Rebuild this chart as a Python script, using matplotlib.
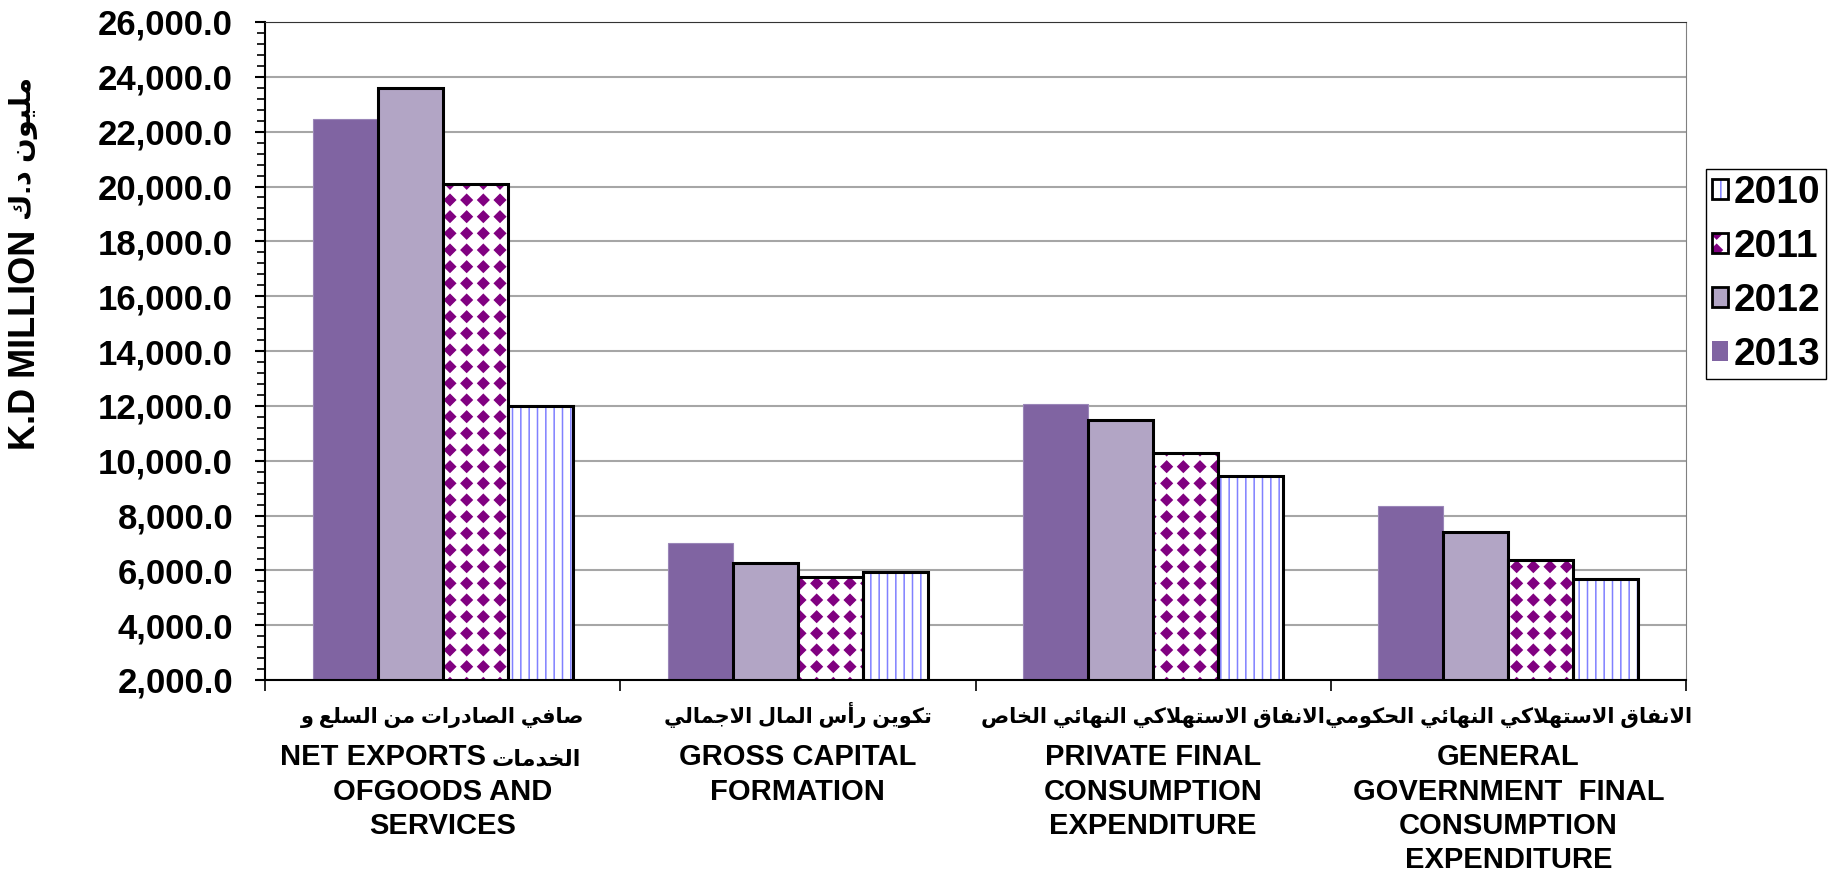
import numpy as np
import matplotlib
matplotlib.use('Agg')
import matplotlib.pyplot as plt
import matplotlib.hatch as mhatch
import matplotlib.patches as mpatches
from matplotlib.path import Path
from matplotlib.legend_handler import HandlerTuple
from matplotlib.ticker import MultipleLocator, FuncFormatter

# data (K.D million), groups left to right
groups_ar = ['صافي الصادرات من السلع و', 'تكوين رأس المال الاجمالي',
             'الانفاق الاستهلاكي النهائي الخاص', 'الانفاق الاستهلاكي النهائي الحكومي']
groups_en = [['NET EXPORTS', 'OFGOODS AND', 'SERVICES'],
             ['GROSS CAPITAL', 'FORMATION'],
             ['PRIVATE FINAL', 'CONSUMPTION', 'EXPENDITURE'],
             ['GENERAL', 'GOVERNMENT  FINAL', 'CONSUMPTION', 'EXPENDITURE']]
first_tail_ar = 'الخدمات'
ylabel_en = 'K.D MILLION'
ylabel_ar = 'مليون د.ك'

v2013 = [22450, 7010, 12050, 8340]
v2012 = [23580, 6250, 11470, 7380]
v2011 = [20090, 5740, 10280, 6370]
v2010 = [11980, 5930, 9430, 5670]

# --- minimal arabic shaping (matplotlib has no complex text layout) ---
DUAL = {'ت': 0xFE95, 'ج': 0xFE9D, 'ح': 0xFEA1, 'خ': 0xFEA5, 'س': 0xFEB1,
        'ص': 0xFEB9, 'ع': 0xFEC9, 'ف': 0xFED1, 'ق': 0xFED5, 'ك': 0xFED9,
        'ل': 0xFEDD, 'م': 0xFEE1, 'ن': 0xFEE5, 'ه': 0xFEE9, 'ي': 0xFEF1,
        'ئ': 0xFE89}
RIGHT = {'ا': 0xFE8D, 'أ': 0xFE83, 'د': 0xFEA9, 'ر': 0xFEAD, 'و': 0xFEED}
LAM_ALEF = {'ا': 0xFEFB, 'أ': 0xFEF7}


def ar(s):
    out = []
    i = 0
    while i < len(s):
        c = s[i]
        p = i > 0 and s[i - 1] in DUAL
        nxt = s[i + 1] if i + 1 < len(s) else ''
        if c == 'ل' and nxt in LAM_ALEF:
            out.append(chr(LAM_ALEF[nxt] + p))
            i += 2
            continue
        if c in DUAL:
            n = nxt in DUAL or nxt in RIGHT
            out.append(chr(DUAL[c] + (2 if n else 0) + (1 if p else 0)))
        elif c in RIGHT:
            out.append(chr(RIGHT[c] + p))
        else:
            out.append(c)
        i += 1
    return ''.join(out)[::-1]


# --- diamond hatch on a square grid, replaces the '*' star hatch ---
class Diamonds(mhatch.HatchPatternBase):
    def __init__(self, hatch, density):
        self.num_rows = hatch.count('*') * density
        self.path = Path.unit_regular_polygon(4)
        self.num_vertices = (self.num_rows + 1) ** 2 * len(self.path.vertices) if self.num_rows else 0

    def set_vertices_and_codes(self, vertices, codes):
        step = 1.0 / self.num_rows
        shape = self.path.vertices * step * 0.33
        k = len(shape)
        n = 0
        for row in range(self.num_rows + 1):
            for col in range(self.num_rows + 1):
                vertices[n:n + k] = shape + [col * step, row * step]
                codes[n:n + k] = self.path.codes
                n += k


mhatch._hatch_types = [t for t in mhatch._hatch_types if t is not mhatch.Stars] + [Diamonds]

plt.rcParams['font.family'] = ['Liberation Sans', 'DejaVu Sans']
plt.rcParams['font.weight'] = 'bold'
plt.rcParams['hatch.linewidth'] = 1.1

W, H = 1836, 875
AX_L, AX_R, AX_T, AX_B = 265, 1686, 22, 680
fig = plt.figure(figsize=(W / 100, H / 100), dpi=100)
ax = fig.add_axes([AX_L / W, 1 - AX_B / H, (AX_R - AX_L) / W, (AX_B - AX_T) / H])


def ybelow(px):
    # axes-fraction y for a pixel row below the x axis
    return -(px - AX_B) / (AX_B - AX_T)


x = np.arange(len(groups_ar))
w = 0.183
edge = 2.2
lines_c = '#8080FF'

ax.bar(x - 1.5 * w, v2013, w, color='#8064A2', edgecolor='#9A86B8', lw=0.8, zorder=2)
ax.bar(x - 0.5 * w, v2012, w, color='#B2A5C5', edgecolor='black', lw=edge, zorder=2)
ax.bar(x + 0.5 * w, v2011, w, color='white', edgecolor='#800080', lw=0, hatch='*', zorder=2)
ax.bar(x + 0.5 * w, v2011, w, color='none', edgecolor='black', lw=edge, zorder=3)
ax.bar(x + 1.5 * w, v2010, w, color='white', edgecolor=lines_c, lw=0, hatch='||', zorder=2)
ax.bar(x + 1.5 * w, v2010, w, color='none', edgecolor='black', lw=edge, zorder=3)

ax.set_xlim(-0.5, len(groups_ar) - 0.5)
ax.set_ylim(2000, 26000)
ax.yaxis.set_major_locator(MultipleLocator(2000))
ax.yaxis.set_minor_locator(MultipleLocator(400))
ax.yaxis.set_major_formatter(FuncFormatter(lambda v, pos: f'{v:,.1f}'))
ax.yaxis.grid(True, color='#A6A6A6', lw=1.5, zorder=0)
ax.set_axisbelow(True)
ax.tick_params(axis='y', which='major', labelsize=25, length=7, width=1.5, direction='out', pad=16)
ax.tick_params(axis='y', which='minor', length=6, width=1.2, direction='out')

ax.set_xticks([])
ax.set_xticks(np.arange(len(groups_ar) + 1) - 0.5, minor=True)
ax.tick_params(axis='x', which='minor', length=8, width=1.2, direction='out')

# category labels: arabic line, then english lines
tr = ax.get_xaxis_transform()
ar_base, en_base, step_px = 723, 765, 34.5
for i, (a, en) in enumerate(zip(groups_ar, groups_en)):
    ax.text(x[i], ybelow(ar_base), ar(a), transform=tr, ha='center', va='baseline',
            fontsize=15)
    rows = en
    if i == 0:
        ax.text(x[i] + 0.122, ybelow(en_base), en[0], transform=tr, ha='right',
                va='baseline', fontsize=21)
        ax.text(x[i] + 0.139, ybelow(en_base), ar(first_tail_ar), transform=tr,
                ha='left', va='baseline', fontsize=16)
        rows = [''] + en[1:]
    for k, row in enumerate(rows):
        if row:
            ax.text(x[i], ybelow(en_base + k * step_px), row, transform=tr,
                    ha='center', va='baseline', fontsize=21)

for s in ('left', 'bottom'):
    ax.spines[s].set_color('black')
    ax.spines[s].set_linewidth(1.5)
ax.spines['top'].set_color('#333333')
ax.spines['right'].set_color('#808080')

fig.text(26 / W, 1 - 340 / H, ylabel_en, rotation=90, ha='center', va='center', fontsize=26)
fig.text(24 / W, 1 - 148 / H, ar(ylabel_ar), rotation=90, ha='center', va='center', fontsize=21)

handles = [
    (mpatches.Patch(facecolor='white', edgecolor=lines_c, lw=0, hatch='||'),
     mpatches.Patch(facecolor='none', edgecolor='black', lw=2)),
    (mpatches.Patch(facecolor='white', edgecolor='#800080', lw=0, hatch='*'),
     mpatches.Patch(facecolor='none', edgecolor='black', lw=2)),
    mpatches.Patch(facecolor='#B2A5C5', edgecolor='black', lw=2),
    mpatches.Patch(facecolor='#8064A2', edgecolor='#8064A2', lw=0),
]
leg = fig.legend(handles, ['2010', '2011', '2012', '2013'], loc='center left',
                 bbox_to_anchor=(1706 / W, 1 - 274 / H), fontsize=28,
                 handler_map={tuple: HandlerTuple(ndivide=1)},
                 handlelength=0.42, handleheight=0.42, handletextpad=0.13,
                 labelspacing=0.46, borderpad=0.15, fancybox=False,
                 edgecolor='black', framealpha=1, borderaxespad=0)
leg.get_frame().set_linewidth(1.0)

fig.savefig('out.png', dpi=100)
